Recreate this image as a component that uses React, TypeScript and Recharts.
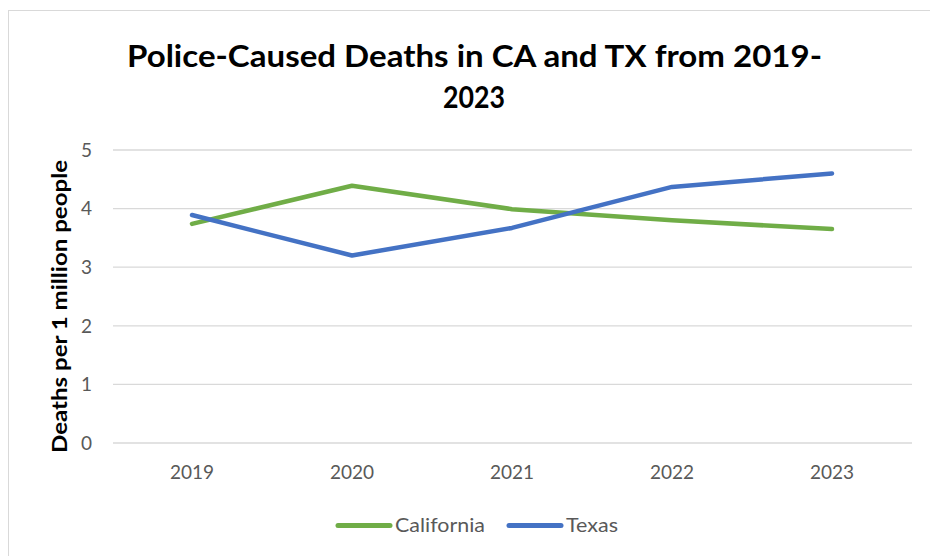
import React from 'react';
import { LineChart, Line, XAxis, YAxis, CartesianGrid } from 'recharts';

const years = ['2019', '2020', '2021', '2022', '2023'];
const california = [3.74, 4.39, 3.99, 3.8, 3.65];
const texas = [3.89, 3.2, 3.67, 4.37, 4.6];
const yTicks = [0, 1, 2, 3, 4, 5];
const seriesNames = ['California', 'Texas'];
const titleLines = ['Police-Caused Deaths in CA and TX from 2019-', '2023'];
const yAxisTitle = 'Deaths per 1 million people';

const GREEN = '#70AD47';
const BLUE = '#4472C4';
const GRAY = '#595959';
const FONT = 'Lato, "Open Sans", sans-serif';

const data = years.map((y, i) => ({ year: y, california: california[i], texas: texas[i] }));

const YLabel = (props: any) => {
  const { viewBox } = props;
  const cy = viewBox.y + viewBox.height / 2 + 10;
  const cx = 59;
  return (
    <text
      x={cx}
      y={cy}
      transform={`rotate(-90, ${cx}, ${cy})`}
      textAnchor="middle"
      dominantBaseline="central"
      fontFamily={FONT}
      fontWeight={700}
      fontSize={20}
      fill="#000"
      textLength={293}
      lengthAdjust="spacingAndGlyphs"
    >
      {yAxisTitle}
    </text>
  );
};

export default function App() {
  return (
    <div style={{ position: 'absolute', left: 0, top: 0, width: 930, height: 556, overflow: 'hidden', background: '#fff' }}>
      <div style={{ position: 'absolute', left: 8, top: 10, width: 960, height: 600, border: '1px solid #d9d9d9', boxSizing: 'border-box' }} />
      <div style={{ position: 'absolute', left: 0, top: 0 }}>
        <LineChart width={930} height={556} data={data} margin={{ top: 150, right: 18, bottom: 83, left: 0 }}>
          <CartesianGrid vertical={false} stroke="#d9d9d9" strokeWidth={1.3} />
          <XAxis
            dataKey="year"
            height={30}
            padding={{ left: 79, right: 80 }}
            axisLine={false}
            tickLine={false}
            tickSize={0}
            tickMargin={23}
            tick={{ fill: GRAY, fontSize: 19, fontFamily: FONT }}
            interval={0}
          />
          <YAxis
            domain={[0, 5]}
            ticks={yTicks}
            width={113}
            axisLine={false}
            tickLine={false}
            tickSize={0}
            tickMargin={21}
            tick={{ fill: GRAY, fontSize: 19, fontFamily: FONT }}
            label={<YLabel />}
          />
          <Line
            type="linear"
            dataKey="california"
            name={seriesNames[0]}
            stroke={GREEN}
            strokeWidth={4.5}
            strokeLinecap="round"
            strokeLinejoin="round"
            dot={false}
            activeDot={false}
            isAnimationActive={false}
          />
          <Line
            type="linear"
            dataKey="texas"
            name={seriesNames[1]}
            stroke={BLUE}
            strokeWidth={4.5}
            strokeLinecap="round"
            strokeLinejoin="round"
            dot={false}
            activeDot={false}
            isAnimationActive={false}
          />
        </LineChart>
      </div>
      <svg width={930} height={556} style={{ position: 'absolute', left: 0, top: 0, pointerEvents: 'none' }}>
        <text x={474.5} y={67} textAnchor="middle" fontFamily={FONT} fontWeight={700} fontSize={31} fill="#000" textLength={695} lengthAdjust="spacingAndGlyphs">
          {titleLines[0]}
        </text>
        <text x={474} y={108} textAnchor="middle" fontFamily={FONT} fontWeight={700} fontSize={31} fill="#000" textLength={62} lengthAdjust="spacingAndGlyphs">
          {titleLines[1]}
        </text>
        <line x1={338} y1={525.5} x2={390} y2={525.5} stroke={GREEN} strokeWidth={5} strokeLinecap="round" />
        <text x={395} y={532} fontFamily={FONT} fontSize={19} fill={GRAY} textLength={90} lengthAdjust="spacingAndGlyphs">
          {seriesNames[0]}
        </text>
        <line x1={509} y1={525.5} x2={561} y2={525.5} stroke={BLUE} strokeWidth={5} strokeLinecap="round" />
        <text x={566} y={532} fontFamily={FONT} fontSize={19} fill={GRAY} textLength={52} lengthAdjust="spacingAndGlyphs">
          {seriesNames[1]}
        </text>
      </svg>
    </div>
  );
}
